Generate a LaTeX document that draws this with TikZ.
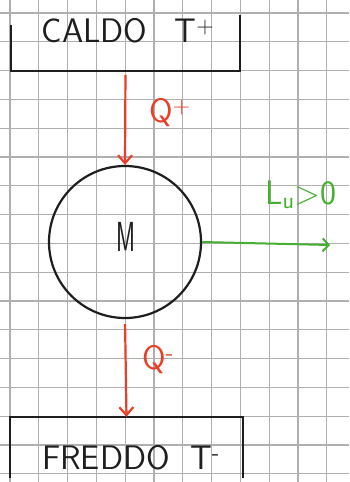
\documentclass[tikz,border=0pt]{standalone}
\usetikzlibrary{arrows.meta}
\definecolor{gridgray}{RGB}{175,175,175}
\definecolor{penred}{RGB}{232,64,40}
\definecolor{pengreen}{RGB}{70,175,50}
\definecolor{ink}{RGB}{30,30,30}
\begin{document}
\begin{tikzpicture}[x=1pt,y=-1pt,
  gridline/.style={gridgray, line width=1.1pt},
  wall/.style={ink, line width=2.4pt},
  flow/.style={penred, line width=2.2pt, -{Straight Barb[length=8pt,width=14pt]}},
  work/.style={pengreen, line width=2pt, -{Straight Barb[length=6pt,width=13pt]}},
  hand/.style={font=\sffamily\fontsize{34}{34}\selectfont, inner sep=0pt},
]
\fill[white] (0,0) rectangle (349,482);
\useasboundingbox (0,0) rectangle (349,482);
\foreach \i in {0,...,11} \draw[gridline] ({10+28.8*\i},0) -- ({10+28.8*\i},482);
\foreach \j in {0,...,16} \draw[gridline] (0,{13+28.8*\j}) -- (349,{13+28.8*\j});

% hot reservoir
\node[minimum width=229pt, minimum height=56pt, inner sep=0pt] (hot) at (125.5,43) {};
\draw[wall] ([yshift=-10pt]hot.north west) -- (hot.south west) -- (hot.south east) -- (hot.north east);
\node[hand, ink] (hottext) at (128,31) {CALDO\hspace{0.8em}T\textsuperscript{+}};

% engine
\node[circle, draw=ink, line width=2.2pt, minimum size=152pt, inner sep=0pt] (M) at (125,242) {};
\node[hand, ink, font=\sffamily\fontsize{42}{42}\selectfont] (mtext) at (126,237) {\scalebox{0.55}[1]{M}};

% cold reservoir
\node[minimum width=233pt, minimum height=61pt, inner sep=0pt] (cold) at (126.5,447.5) {};
\draw[wall] (cold.south west) -- (cold.north west) -- (cold.north east) -- (cold.south east);
\node[hand, ink] (coldtext) at (131,458) {FREDDO\hspace{0.6em}T\textsuperscript{-}};

% heat flows
\draw[flow, shorten <=4pt] (hot.south) -- (M.north);
\node[hand, penred] (qin) at (170,113) {Q\textsuperscript{+}};
\draw[flow, shorten <=5pt] (M.south) -- (cold.north);
\node[hand, penred] (qout) at (158,360) {Q\textsuperscript{-}};

% work
\coordinate (wend) at (330,245);
\draw[work] (M.east) -- (wend);
\node[hand, pengreen] (wlabel) at (301,195) {L\textsubscript{u}>0};
\end{tikzpicture}
\end{document}
